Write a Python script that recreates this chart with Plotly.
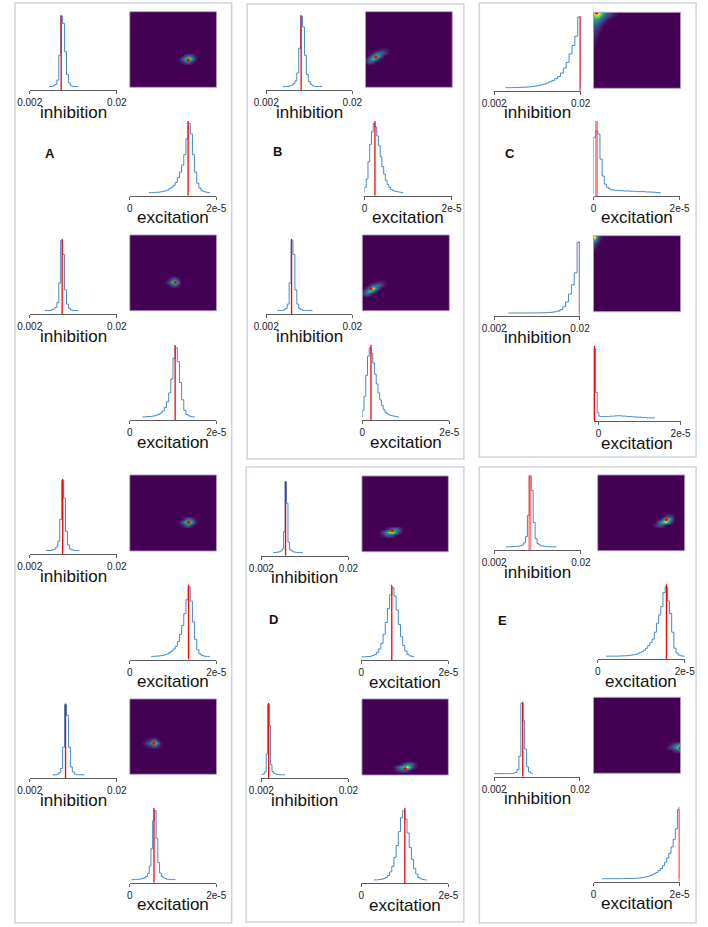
import plotly.graph_objects as go

W, H = 708, 927

# ---------------- tick labels / texts ----------------
INH_TICKVALS = [0.002, 0.02]
INH_TICKTEXT = ["0.002", "0.02"]
EXC_TICKVALS = [0.0, 2e-5]
EXC_TICKTEXT = ["0", "2e-5"]
INH_LABEL = "inhibition"
EXC_LABEL = "excitation"
PANEL_LABELS = ["A", "B", "C", "D", "E"]

HM_NX, HM_NY = 30, 25          # bins of the 2-D posterior (excitation x inhibition)
INH_RANGE = [0.002, 0.02]
EXC_RANGE = [0.0, 2e-5]

# ---------------- data: true values (inhibition, excitation) ----------------
a1_true = (0.0085, 1.35e-5)
a2_true = (0.0087, 1.05e-5)
a3_true = (0.0088, 1.36e-5)
a4_true = (0.0094, 0.56e-5)
b1_true = (0.0093, 0.24e-5)
b2_true = (0.0073, 0.20e-5)
c1_true = (0.0199, 0.07e-5)
c2_true = (0.01985, -0.10e-5)
d1_true = (0.0070, 0.70e-5)
d2_true = (0.0035, 1.00e-5)
e1_true = (0.0094, 1.58e-5)
e2_true = (0.0080, 1.99e-5)

# ---------------- data: marginal histograms (first edge, bin width, counts) ----------------
a1_inh = (0.0060, 0.0004, [1, 1, 2, 4, 10, 45, 100, 90, 50, 18, 6, 2, 1, 1, 1])
a1_exc = (0.45e-5, 0.5e-6, [0.5, 0.5, 0.5, 1, 1, 1.5, 2, 3, 4, 6, 8, 11, 15, 22, 30, 40, 55, 78, 100, 85,
                            55, 30, 14, 7, 3, 2, 1, 0.5])
a2_inh = (0.0052, 0.0004, [1, 1, 1, 2, 3, 5, 12, 40, 100, 80, 30, 10, 4, 2, 1, 1, 1])
a2_exc = (0.3e-5, 0.5e-6, [0.5, 0.5, 1, 1, 1.5, 2, 3, 4, 6, 9, 14, 22, 35, 55, 85, 100, 80, 50, 25, 10,
                           4, 2, 1, 0.5])
a3_inh = (0.0054, 0.0004, [1, 1, 1, 2, 3, 6, 14, 45, 100, 75, 28, 9, 3, 2, 1, 1, 1])
a3_exc = (0.5e-5, 0.5e-6, [0.5, 0.5, 1, 1, 1.5, 2, 3, 4, 6, 8, 11, 15, 22, 32, 45, 62, 82, 100, 80, 50,
                           25, 10, 4, 2, 1, 0.5, 0.5])
a4_inh = (0.0068, 0.0004, [1, 1, 2, 4, 10, 40, 100, 85, 40, 12, 5, 2, 1, 1, 1, 1])
a4_exc = (0.05e-5, 0.4e-6, [0.5, 0.5, 0.5, 1, 1, 1.5, 2, 3, 5, 9, 20, 45, 85, 100, 60, 25, 10, 5, 3, 2,
                            1, 1, 0.5, 0.5, 0.5])
b1_inh = (0.0056, 0.0004, [1, 1, 1, 2, 3, 5, 9, 20, 55, 100, 85, 45, 18, 8, 4, 2, 1, 1, 1, 1])
b1_exc = (0.0, 0.4e-6, [8, 20, 45, 70, 88, 100, 95, 82, 68, 52, 38, 27, 18, 12, 8, 5, 3.5, 2.5, 2, 1.5,
                        1, 0.5])
b2_inh = (0.0044, 0.0004, [1, 1, 1, 2, 4, 10, 40, 100, 80, 30, 10, 4, 2, 1, 1, 1, 1, 1])
b2_exc = (0.0, 0.4e-6, [10, 30, 60, 88, 100, 92, 78, 62, 48, 35, 25, 17, 11, 7, 5, 3.5, 2.5, 2, 1.5, 1,
                        0.5])
c1_inh = (0.0044, 0.0006, [0.3, 0.3, 0.4, 0.5, 0.6, 0.8, 1.0, 1.2, 1.5, 2, 2.6, 3.3, 4.2, 5.3, 6.7, 8.5,
                           10.5, 13, 16, 21, 28, 36, 48, 60, 73, 100])
c1_exc = (0.0, 0.5e-6, [90, 100, 95, 55, 28, 15, 10, 7.5, 6, 5.5, 5, 5, 4.5, 4.5, 4, 4, 4, 3.5, 3.5, 3.5,
                        3, 3, 3, 3, 2.5, 2.5, 2.5, 2, 2, 1.5, 1.5])
c2_inh = (0.0050, 0.0006, [0.2, 0.2, 0.2, 0.2, 0.2, 0.2, 0.25, 0.3, 0.3, 0.35, 0.4, 0.5, 0.6, 0.8, 1.0,
                           1.4, 2, 3, 5, 9, 16, 27, 40, 57, 100])
c2_exc = (-1.1e-6, 0.4e-6, [100, 37, 8, 3, 2.5, 2.5, 2.5, 2.5, 2.5, 2.5, 3, 3, 3, 3.5, 3.5, 3.5, 3.5, 3,
                            3, 3, 2.5, 2.5, 2.5, 2, 2, 2, 1.5, 1.5, 1.5, 1, 1, 1, 0.5, 0.5, 0.5, 0.5, 0.5])
d1_inh = (0.0045, 0.0003, [0.5, 0.5, 1, 1, 2, 3, 6, 30, 100, 70, 15, 5, 3, 2, 1, 1, 0.5, 0.5, 0.5, 0.5])
d1_exc = (0.0, 0.5e-6, [0.5, 0.5, 1, 1, 1.5, 2.5, 4, 7, 12, 20, 33, 50, 70, 90, 100, 88, 68, 47, 30, 17,
                        9, 4, 2, 1])
d2_inh = (0.0021, 0.0003, [1, 2, 5, 30, 100, 70, 15, 5, 3, 2, 1, 1, 0.5, 0.5, 0.5, 0.5])
d2_exc = (0.3e-5, 0.5e-6, [0.5, 0.5, 1, 1.5, 2.5, 4, 7, 12, 20, 33, 50, 70, 90, 100, 88, 68, 47, 30, 17,
                           9, 4, 2, 1, 0.5])
e1_inh = (0.0045, 0.0004, [0.5, 0.5, 0.5, 1, 1, 1, 1.5, 2, 3, 6, 15, 45, 100, 80, 35, 12, 5, 3, 2, 1.5,
                           1, 1, 0.5, 0.5, 0.5, 0.5])
e1_exc = (0.2e-5, 0.5e-6, [0.5, 0.5, 0.5, 0.5, 0.5, 0.5, 0.8, 1, 1, 1.2, 1.5, 2, 2.5, 3, 4, 5.5, 7, 9,
                           12, 16, 20, 25, 35, 48, 60, 72, 92, 100, 80, 62, 35, 12, 5, 2, 1, 0.5])
e2_inh = (0.0020, 0.0004, [0.3, 0.3, 0.3, 0.3, 0.3, 0.3, 0.3, 0.3, 0.3, 0.5, 1, 2, 6, 25, 100, 75, 35,
                           10, 3, 1])
e2_exc = (0.2e-5, 0.5e-6, [0.3, 0.3, 0.3, 0.3, 0.3, 0.3, 0.3, 0.35, 0.4, 0.45, 0.5, 0.55, 0.6, 0.7, 0.8,
                           0.9, 1, 1.3, 1.7, 2.3, 3, 3.8, 4.8, 6, 7.5, 9.5, 12, 15, 19, 24, 30, 37, 46,
                           57, 72, 100])

# ---------------- data: 2-D posterior density (first column, first row, rows bottom->top) ----------------
a1_hm = (17, 8, [[0.05, 0.1, 0.3, 0.35, 0.1, 0],
                 [0.15, 0.35, 0.7, 1.0, 0.55, 0.15],
                 [0, 0.05, 0.25, 0.4, 0.25, 0.05]])
a2_hm = (12, 8, [[0, 0.05, 0.2, 0.3, 0.1],
                 [0.05, 0.2, 0.6, 1.0, 0.4],
                 [0, 0.05, 0.25, 0.35, 0.1]])
a3_hm = (17, 8, [[0.05, 0.1, 0.3, 0.35, 0.1, 0],
                 [0.15, 0.35, 0.7, 1.0, 0.55, 0.15],
                 [0, 0.05, 0.25, 0.4, 0.25, 0.05]])
a4_hm = (4, 9, [[0, 0.05, 0.1, 0.2, 0.3, 0.15, 0.05],
                [0.05, 0.15, 0.3, 0.6, 1.0, 0.5, 0.1],
                [0, 0.05, 0.1, 0.25, 0.35, 0.15, 0]])
b1_hm = (0, 8, [[0.15, 0.3, 0.2],
                [0.1, 0.4, 0.7, 0.5, 0.15],
                [0, 0.1, 0.4, 1.0, 0.6, 0.2],
                [0, 0, 0.05, 0.25, 0.35, 0.35, 0.2, 0.05],
                [0, 0, 0, 0, 0.05, 0.1, 0.1, 0.05]])
b2_hm = (0, 5, [[0.15, 0.3, 0.2],
                [0.1, 0.4, 0.7, 0.5, 0.15],
                [0, 0.1, 0.4, 1.0, 0.6, 0.2],
                [0, 0, 0.05, 0.25, 0.35, 0.35, 0.2, 0.05],
                [0, 0, 0, 0, 0.05, 0.1, 0.1, 0.05]])
c1_hm = (0, 14, [[0.04], [0.05], [0.08, 0.03], [0.1, 0.05], [0.15, 0.08], [0.2, 0.12, 0.05],
                 [0.25, 0.2, 0.08], [0.35, 0.3, 0.15, 0.05], [0.5, 0.45, 0.3, 0.15, 0.05],
                 [0.7, 0.75, 0.5, 0.3, 0.15, 0.08], [0.9, 1.0, 0.8, 0.5, 0.3, 0.2, 0.1, 0.05]])
c2_hm = (0, 20, [[0.05], [0.1], [0.2, 0.05], [0.5, 0.15], [1.0, 0.3, 0.05]])
d1_hm = (6, 5, [[0.05, 0.15, 0.25, 0.3, 0.2, 0.05, 0, 0],
                [0.1, 0.3, 0.55, 0.8, 1.0, 0.6, 0.25, 0.05],
                [0, 0, 0.05, 0.2, 0.4, 0.45, 0.3, 0.1]])
d2_hm = (11, 1, [[0.05, 0.15, 0.25, 0.3, 0.2, 0.05, 0, 0],
                 [0.1, 0.3, 0.55, 0.8, 1.0, 0.6, 0.25, 0.05],
                 [0, 0, 0.05, 0.2, 0.4, 0.45, 0.3, 0.1]])
e1_hm = (19, 8, [[0.1, 0.2, 0.3, 0.2],
                 [0, 0.2, 0.45, 0.7, 0.9, 0.5, 0.1],
                 [0, 0, 0, 0.3, 1.0, 0.7, 0.3],
                 [0, 0, 0, 0, 0.1, 0.2, 0.15]])
e2_hm = (25, 7, [[0, 0, 0.1, 0.2, 0.3],
                 [0.1, 0.2, 0.4, 0.7, 1.0],
                 [0, 0.1, 0.2, 0.4, 0.6]])

UNITS = [
    ("a1", a1_true, a1_inh, a1_exc, a1_hm),
    ("a2", a2_true, a2_inh, a2_exc, a2_hm),
    ("a3", a3_true, a3_inh, a3_exc, a3_hm),
    ("a4", a4_true, a4_inh, a4_exc, a4_hm),
    ("b1", b1_true, b1_inh, b1_exc, b1_hm),
    ("b2", b2_true, b2_inh, b2_exc, b2_hm),
    ("c1", c1_true, c1_inh, c1_exc, c1_hm),
    ("c2", c2_true, c2_inh, c2_exc, c2_hm),
    ("d1", d1_true, d1_inh, d1_exc, d1_hm),
    ("d2", d2_true, d2_inh, d2_exc, d2_hm),
    ("e1", e1_true, e1_inh, e1_exc, e1_hm),
    ("e2", e2_true, e2_inh, e2_exc, e2_hm),
]

# ---------------- layout (pixels) ----------------
GEOM = {
    "a1": dict(inh=(17.3, 107.3, 90), hm=(120.7, 210.3, 11.7, 87.3), exc=(120.7, 210, 195.7)),
    "a2": dict(inh=(17.3, 107.3, 314), hm=(120.7, 210.3, 235, 310.7), exc=(120.7, 210, 420)),
    "a3": dict(inh=(17.3, 107.3, 554), hm=(120.7, 210.3, 475, 551), exc=(120.7, 210, 659.5)),
    "a4": dict(inh=(17.3, 107.3, 778.3), hm=(120.7, 210.3, 699, 774.3), exc=(120.7, 210, 882.7)),
    "b1": dict(inh=(261.7, 350.7, 90), hm=(364.3, 454, 11.7, 87.3), exc=(363.3, 453.3, 195.7)),
    "b2": dict(inh=(261.7, 350.7, 314), hm=(361, 451, 235, 310.7), exc=(361, 451, 420)),
    "c1": dict(inh=(497.3, 586.7, 90.7), hm=(600, 690, 12.3, 88.3), exc=(600, 689, 196)),
    "c2": dict(inh=(497.3, 586, 316), hm=(600, 690, 235.7, 311.7), exc=(600, 690, 421)),
    "d1": dict(inh=(256.7, 346.7, 555.7), hm=(360.7, 450, 476, 551.7), exc=(360, 450, 660)),
    "d2": dict(inh=(256.7, 346.7, 778), hm=(360.7, 450, 699, 775), exc=(360, 450, 883)),
    "e1": dict(inh=(497.3, 587, 550), hm=(604.3, 694.3, 475, 550.7), exc=(604.3, 694.3, 659.3)),
    "e2": dict(inh=(497.3, 586, 776.7), hm=(600, 690, 697.3, 773.3), exc=(600, 689, 881.7)),
}
EXC_RANGE_OVERRIDE = {"c2": [-1.2e-6, 2e-5]}
EXC_YTOP = {"c1": 116}
RED_STYLE = {"c1_exc": (3, "rgba(255,60,60,0.6)"), "e1_inh": (3, "rgba(255,60,60,0.6)"),
             "c2_inh": (1.2, "rgba(255,80,80,0.7)"), "e2_exc": (1.5, "rgba(255,80,80,0.8)")}
BOXES = [(2, 3, 226, 923), (242, 4, 466, 459), (482, 3, 706, 457), (241, 467, 466, 922), (482, 467, 706, 923)]
LABEL_POS = [(38, 153), (273.3, 151.7), (513.3, 153), (269.3, 619), (505.7, 620)]

FONT = "Liberation Sans, Arial, sans-serif"
BLUE = "rgb(66,138,204)"
AXC = "#5c5c5c"


def px_x(p):
    return p / W


def px_y(p):
    return 1 - p / H


fig = go.Figure()
layout = {}
annotations = []
ax_i = [0]


def new_axis():
    ax_i[0] += 1
    k = ax_i[0]
    return k, ("xaxis" if k == 1 else f"xaxis{k}"), ("yaxis" if k == 1 else f"yaxis{k}"), \
        ("x" if k == 1 else f"x{k}"), ("y" if k == 1 else f"y{k}")


def step_xy(hist):
    start, width, counts = hist
    xs = [start]
    ys = [0]
    for i, c in enumerate(counts):
        xs.append(start + i * width)
        ys.append(c)
    xs.append(start + len(counts) * width)
    ys.append(0)
    return xs, ys


def add_hist(name, kind, hist, true_val, x0, x1, yax, xrange, ticks, ticktext, label, ytop):
    k, xa, ya, xr, yr = new_axis()
    top = yax - 75
    layout[xa] = dict(domain=[px_x(x0), px_x(x1)], anchor=yr, range=xrange, showgrid=False, zeroline=False,
                      showline=True, linecolor=AXC, linewidth=1, ticks="outside", ticklen=3, tickwidth=1,
                      tickcolor=AXC, tickvals=ticks, ticktext=ticktext,
                      tickfont=dict(size=10, color="#222", family=FONT), fixedrange=True)
    layout[ya] = dict(domain=[px_y(yax), px_y(top)], anchor=xr, range=[-4, ytop], visible=False,
                      fixedrange=True)
    xs, ys = step_xy(hist)
    fig.add_trace(go.Scatter(x=xs, y=ys, mode="lines", line=dict(color=BLUE, width=1, shape="hv"),
                             xaxis=xr, yaxis=yr, hoverinfo="skip", showlegend=False))
    w, col = RED_STYLE.get(f"{name}_{kind}", (1.3, "red"))
    fig.add_trace(go.Scatter(x=[true_val, true_val], y=[-4, ytop], mode="lines", line=dict(color=col, width=w),
                             xaxis=xr, yaxis=yr, hoverinfo="skip", showlegend=False))
    annotations.append(dict(x=px_x((x0 + x1) / 2), y=px_y(yax + 22), xref="paper", yref="paper",
                            text=label, showarrow=False, xanchor="center", yanchor="middle",
                            font=dict(size=17, color="#111", family=FONT)))


def add_heatmap(name, hm, true_pair, x0, x1, y0, y1):
    k, xa, ya, xr, yr = new_axis()
    col0, row0, rows = hm
    z = [[0.0] * HM_NX for _ in range(HM_NY)]
    for ri, row in enumerate(rows):
        for ci, v in enumerate(row):
            z[row0 + ri][col0 + ci] = v
    xc = [EXC_RANGE[0] + (i + 0.5) * (EXC_RANGE[1] - EXC_RANGE[0]) / HM_NX for i in range(HM_NX)]
    yc = [INH_RANGE[0] + (j + 0.5) * (INH_RANGE[1] - INH_RANGE[0]) / HM_NY for j in range(HM_NY)]
    layout[xa] = dict(domain=[px_x(x0), px_x(x1)], anchor=yr, range=EXC_RANGE, visible=False, fixedrange=True)
    layout[ya] = dict(domain=[px_y(y1), px_y(y0)], anchor=xr, range=INH_RANGE, visible=False, fixedrange=True)
    fig.add_trace(go.Heatmap(z=z, x=xc, y=yc, colorscale="Viridis", zmin=0, zmax=1, zsmooth="best",
                             showscale=False, xaxis=xr, yaxis=yr, hoverinfo="skip"))
    fig.add_trace(go.Scatter(x=[true_pair[1]], y=[true_pair[0]], mode="markers",
                             marker=dict(color="red", size=3.5), xaxis=xr, yaxis=yr,
                             hoverinfo="skip", showlegend=False, cliponaxis=True))
    fig.add_shape(type="rect", xref="paper", yref="paper", x0=px_x(x0), x1=px_x(x1), y0=px_y(y1), y1=px_y(y0),
                  line=dict(color="rgba(165,150,185,0.9)", width=1))


for name, true_pair, inh, exc, hm in UNITS:
    g = GEOM[name]
    ix0, ix1, iy = g["inh"]
    add_hist(name, "inh", inh, true_pair[0], ix0, ix1, iy, INH_RANGE, INH_TICKVALS, INH_TICKTEXT,
             INH_LABEL, 102)
    hx0, hx1, hy0, hy1 = g["hm"]
    add_heatmap(name, hm, true_pair, hx0, hx1, hy0, hy1)
    ex0, ex1, ey = g["exc"]
    add_hist(name, "exc", exc, true_pair[1], ex0, ex1, ey, EXC_RANGE_OVERRIDE.get(name, EXC_RANGE),
             EXC_TICKVALS, EXC_TICKTEXT, EXC_LABEL, EXC_YTOP.get(name, 104))

for (bx0, by0, bx1, by1) in BOXES:
    fig.add_shape(type="rect", xref="paper", yref="paper", x0=px_x(bx0), x1=px_x(bx1), y0=px_y(by1),
                  y1=px_y(by0), line=dict(color="rgb(206,212,222)", width=1.5))

for lab, (lx, ly) in zip(PANEL_LABELS, LABEL_POS):
    annotations.append(dict(x=px_x(lx), y=px_y(ly), xref="paper", yref="paper", text=f"<b>{lab}</b>",
                            showarrow=False, xanchor="center", yanchor="middle",
                            font=dict(size=13, color="#111", family=FONT)))

fig.update_layout(**layout)
fig.update_layout(width=W, height=H, margin=dict(l=0, r=0, t=0, b=0), paper_bgcolor="white",
                  plot_bgcolor="rgba(0,0,0,0)", showlegend=False, annotations=annotations,
                  font=dict(family=FONT))
fig.write_html("out.html", config={"displayModeBar": False})
